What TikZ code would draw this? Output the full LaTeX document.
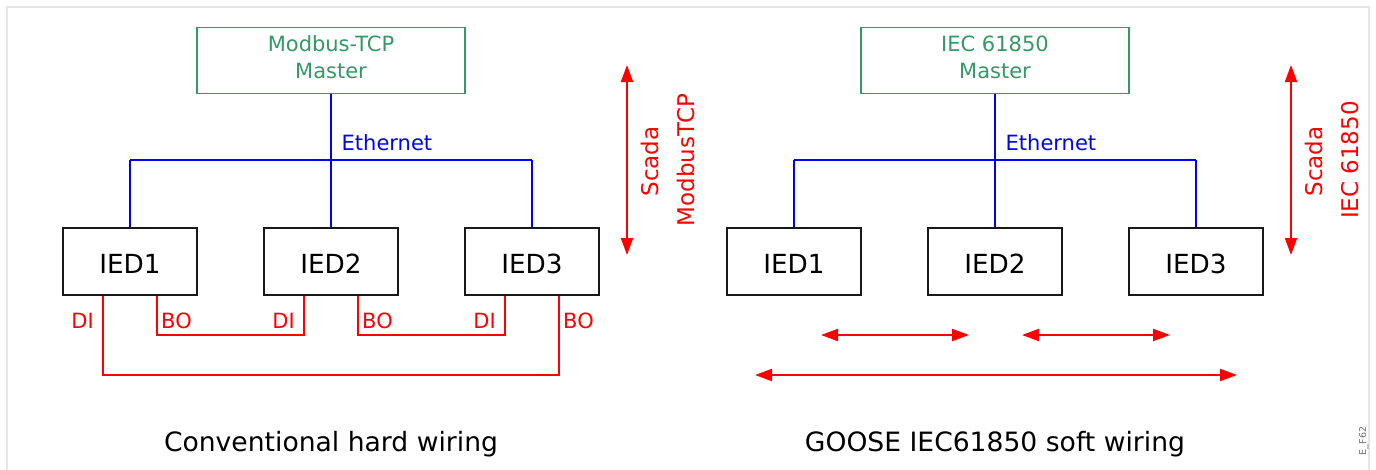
\documentclass[tikz,border=0pt]{standalone}
\usepackage{fontspec}
\setmainfont{DejaVu Sans}
\usetikzlibrary{arrows.meta}
\definecolor{mgreen}{RGB}{51,153,102}
\definecolor{mred}{RGB}{255,0,0}
\definecolor{mblue}{RGB}{0,0,255}
\definecolor{mframe}{RGB}{230,230,230}
\begin{document}
\begin{tikzpicture}[x=1pt,y=-1pt,
  iedbox/.style={draw=black!90,line width=1.6pt,minimum width=134pt,minimum height=67pt,inner sep=0pt,font=\fontsize{26.3}{30}\selectfont,text height=23pt,text depth=0pt},
  masterbox/.style={draw=mgreen,line width=1.6pt,minimum width=268pt,minimum height=66pt,inner sep=0pt},
  mtext/.style={text=mgreen,font=\fontsize{21}{25}\selectfont,inner sep=0pt,anchor=base},
  eth/.style={mblue,line width=1.5pt},
  ethlbl/.style={text=mblue,font=\fontsize{21}{25}\selectfont,inner sep=0pt,anchor=base west},
  wire/.style={mred,line width=1.8pt},
  wlbl/.style={text=mred,font=\fontsize{21}{25}\selectfont,inner sep=0pt},
  sarrow/.style={mred,line width=2pt,{Triangle[length=17pt,width=12pt]}-{Triangle[length=17pt,width=12pt]}},
  vlbl/.style={text=mred,font=\fontsize{23}{27}\selectfont,inner sep=0pt,rotate=90,anchor=base},
  captxt/.style={font=\fontsize{26.6}{30}\selectfont,inner sep=0pt,anchor=base},
]
\useasboundingbox (0,0) rectangle (1376,469);
\draw[mframe,line width=2pt] (7,7) rectangle (1369,490);

% ---------------- left: conventional ----------------
\node[masterbox] (mL) at (331,60.5) {};
\node[mtext] (mLt1) at (331,51.7) {Modbus-TCP};
\node[mtext] (mLt2) at (331,78) {Master};

\node[iedbox] (a1) at (130,261.5) {IED1};
\node[iedbox] (a2) at (331,261.5) {IED2};
\node[iedbox] (a3) at (532,261.5) {IED3};

\coordinate (bLm) at (331,160);
\coordinate (bL1) at (130,160);
\coordinate (bL3) at (532,160);
\draw[eth] (mL.south) -- (bLm);
\draw[eth] (bL1) -- (bL3);
\draw[eth] (bL1) -- (a1.north);
\draw[eth] (bLm) -- (a2.north);
\draw[eth] (bL3) -- (a3.north);
\node[ethlbl] (ethL) at (341.5,150.7) {Ethernet};

% hard wiring
\draw[wire] (a1.south -| 157,0) |- (304,335) -- (a2.south -| 304,0);
\draw[wire] (a2.south -| 358,0) |- (505,335) -- (a3.south -| 505,0);
\draw[wire] (a3.south -| 559,0) |- (103,375) -- (a1.south -| 103,0);
\node[wlbl,anchor=base east] (di1) at (94,328) {DI};
\node[wlbl,anchor=base west] (bo1) at (161,328) {BO};
\node[wlbl,anchor=base east] (di2) at (295,328) {DI};
\node[wlbl,anchor=base west] (bo2) at (362,328) {BO};
\node[wlbl,anchor=base east] (di3) at (496,328) {DI};
\node[wlbl,anchor=base west] (bo3) at (563,328) {BO};

\coordinate (sLt) at (627,65);
\coordinate (sLb) at (627,255);
\draw[sarrow] (sLt) -- (sLb);
\node[vlbl] (scL1) at (658,161.5) {Scada};
\node[vlbl] (scL2) at (694,160) {ModbusTCP};

\node[captxt] (capL) at (331,451) {Conventional hard wiring};

% ---------------- right: GOOSE ----------------
\node[masterbox] (mR) at (995,60.5) {};
\node[mtext] (mRt1) at (995,51.7) {IEC 61850};
\node[mtext] (mRt2) at (995,78) {Master};

\node[iedbox] (b1) at (794,261.5) {IED1};
\node[iedbox] (b2) at (995,261.5) {IED2};
\node[iedbox] (b3) at (1196,261.5) {IED3};

\coordinate (bRm) at (995,160);
\coordinate (bR1) at (794,160);
\coordinate (bR3) at (1196,160);
\draw[eth] (mR.south) -- (bRm);
\draw[eth] (bR1) -- (bR3);
\draw[eth] (bR1) -- (b1.north);
\draw[eth] (bRm) -- (b2.north);
\draw[eth] (bR3) -- (b3.north);
\node[ethlbl] (ethR) at (1005.5,150.7) {Ethernet};

\coordinate (g1a) at (821,335);
\coordinate (g1b) at (969,335);
\coordinate (g2a) at (1022,335);
\coordinate (g2b) at (1170,335);
\coordinate (g3a) at (755,375);
\coordinate (g3b) at (1237,375);
\draw[sarrow] (g1a) -- (g1b);
\draw[sarrow] (g2a) -- (g2b);
\draw[sarrow] (g3a) -- (g3b);

\coordinate (sRt) at (1291,65);
\coordinate (sRb) at (1291,255);
\draw[sarrow] (sRt) -- (sRb);
\node[vlbl] (scR1) at (1322,161.5) {Scada};
\node[vlbl] (scR2) at (1358,160) {IEC 61850};

\node[captxt] (capR) at (995,451) {GOOSE IEC61850 soft wiring};

\node[text=black!55,font=\fontsize{9.5}{11}\selectfont,inner sep=0pt,rotate=90,anchor=base] (tag) at (1366,441) {E\_F62};
\end{tikzpicture}
\end{document}
